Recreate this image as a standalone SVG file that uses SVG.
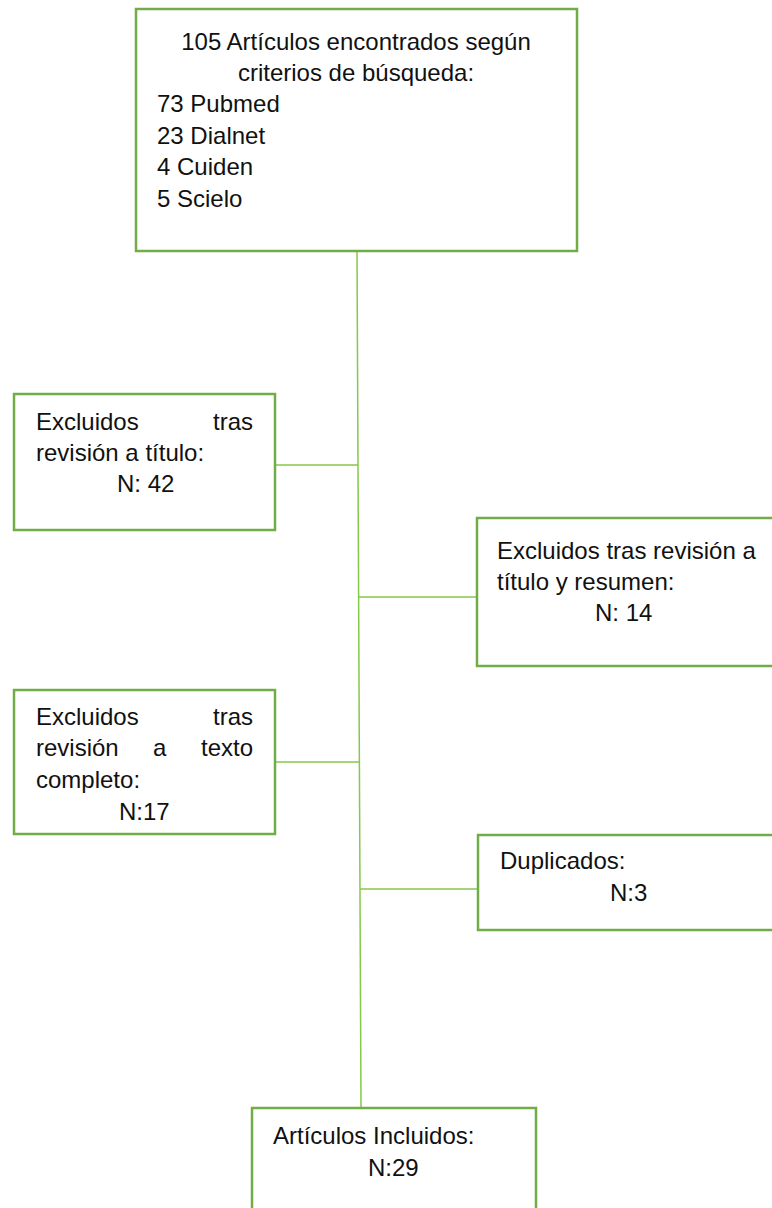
<svg xmlns="http://www.w3.org/2000/svg" width="772" height="1208" viewBox="0 0 772 1208">
<style>
.box{fill:#ffffff;stroke:#70ad47;stroke-width:2.5}
.con{stroke:#86c84a;stroke-width:1.5;fill:none}
text{font-family:"Liberation Sans",Arial,sans-serif;font-size:24px;fill:#111111}
.mid{text-anchor:middle}
.end{text-anchor:end}
</style>
<rect width="772" height="1208" fill="#ffffff"/>
<g id="connectors">
<line class="con" x1="357" y1="251" x2="361" y2="1108"/>
<line class="con" x1="275" y1="465" x2="358" y2="465"/>
<line class="con" x1="358" y1="597" x2="478" y2="597"/>
<line class="con" x1="275" y1="762" x2="359" y2="762"/>
<line class="con" x1="360" y1="889" x2="478" y2="889"/>
</g>
<g id="n-search">
<rect class="box" x="136" y="9" width="441" height="242"/>
<text class="mid" x="356" y="50">105 Artículos encontrados según</text>
<text class="mid" x="356" y="81">criterios de búsqueda:</text>
<text x="157" y="112">73 Pubmed</text>
<text x="157" y="144">23 Dialnet</text>
<text x="157" y="175">4 Cuiden</text>
<text x="157" y="207">5 Scielo</text>
</g>
<g id="n-title">
<rect class="box" x="14" y="394" width="261" height="136"/>
<text x="36" y="430">Excluidos</text>
<text class="end" x="253" y="430">tras</text>
<text x="36" y="461">revisión a título:</text>
<text x="117" y="492">N: 42</text>
</g>
<g id="n-abstract">
<rect class="box" x="477" y="518" width="300" height="148"/>
<text x="497" y="559">Excluidos tras revisión a</text>
<text x="497" y="590">título y resumen:</text>
<text x="595" y="621">N: 14</text>
</g>
<g id="n-fulltext">
<rect class="box" x="14" y="690" width="261" height="144"/>
<text x="36" y="725">Excluidos</text>
<text class="end" x="253" y="725">tras</text>
<text x="36" y="756">revisión</text>
<text x="153" y="756">a</text>
<text class="end" x="253" y="756">texto</text>
<text x="36" y="788">completo:</text>
<text x="119" y="820">N:17</text>
</g>
<g id="n-dup">
<rect class="box" x="478" y="835" width="300" height="95"/>
<text x="500" y="869">Duplicados:</text>
<text x="610" y="901">N:3</text>
</g>
<g id="n-included">
<rect class="box" x="252" y="1108" width="284" height="110"/>
<text x="273" y="1144">Artículos Incluidos:</text>
<text x="368" y="1176">N:29</text>
</g>
</svg>
